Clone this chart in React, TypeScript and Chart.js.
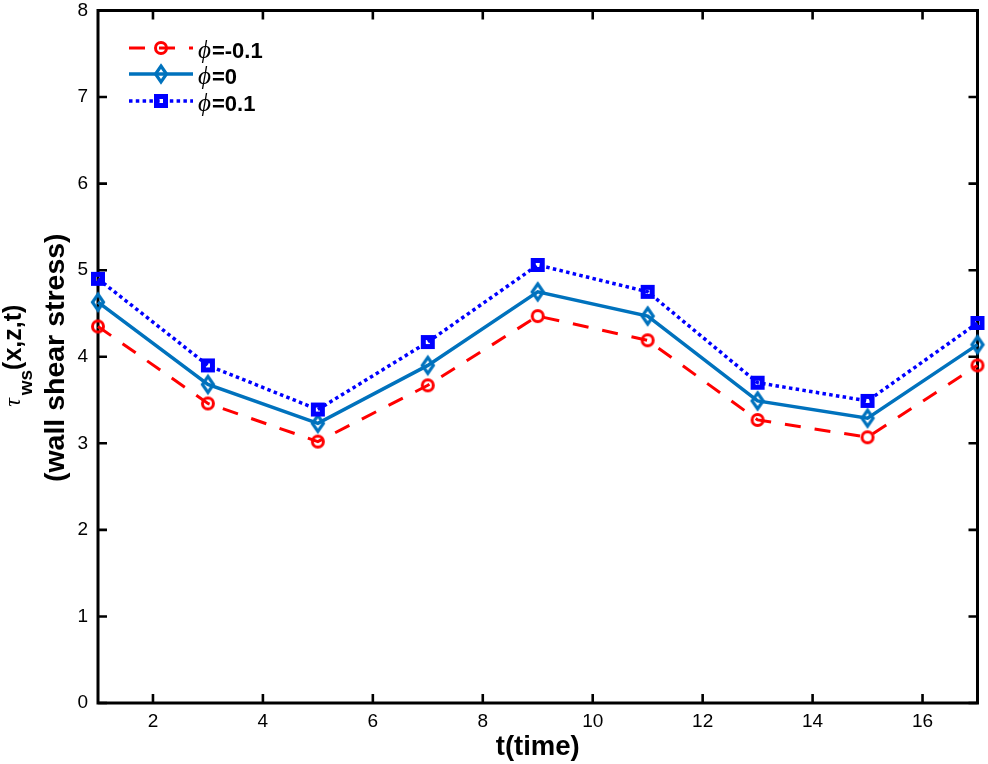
import React, { useEffect, useRef } from "react";
import { Chart, registerables } from "chart.js";

Chart.register(...registerables);

const times = [1, 3, 5, 7, 9, 11, 13, 15, 17];
const phiNeg = [4.35, 3.46, 3.02, 3.67, 4.47, 4.19, 3.27, 3.07, 3.9];
const phiZero = [4.63, 3.68, 3.23, 3.9, 4.75, 4.47, 3.49, 3.29, 4.14];
const phiPos = [4.9, 3.9, 3.39, 4.17, 5.06, 4.75, 3.7, 3.49, 4.39];
const xTicks = [2, 4, 6, 8, 10, 12, 14, 16];
const yTicks = [0, 1, 2, 3, 4, 5, 6, 7, 8];
const seriesLabels = ["=-0.1", "=0", "=0.1"];
const xTitle = "t(time)";
const yTitleMain = "(x,z,t)";
const yTitleSub = "ws";
const yTitleSym = "\u03C4";
const yTitle2 = "(wall shear stress)";
const phiSym = "\u03D5";

const RED = "#FF0000";
const MBLUE = "#0072BD";
const BLUE = "#0000FF";
const SANS = '"Liberation Sans", Arial, Helvetica, sans-serif';
const SERIF = '"Liberation Serif", "DejaVu Serif", serif';
const RED_DASH = [16, 14];
const DOT_DASH = [3.5, 3.3];

function makeMarker(kind: string, color: string): HTMLCanvasElement {
  const c = document.createElement("canvas");
  c.width = 26;
  c.height = 26;
  const g = c.getContext("2d")!;
  g.strokeStyle = color;
  g.lineJoin = "miter";
  const cx = 13, cy = 13;
  if (kind === "circle") {
    g.lineWidth = 3;
    g.beginPath();
    g.arc(cx, cy, 5.5, 0, Math.PI * 2);
    g.stroke();
  } else if (kind === "diamond") {
    g.lineWidth = 3.2;
    g.beginPath();
    g.moveTo(cx, cy - 8);
    g.lineTo(cx + 5.5, cy);
    g.lineTo(cx, cy + 8);
    g.lineTo(cx - 5.5, cy);
    g.closePath();
    g.stroke();
  } else {
    g.lineWidth = 5;
    g.strokeRect(cx - 4.5, cy - 4.5, 9, 9);
  }
  return c;
}

export default function App() {
  const ref = useRef<HTMLCanvasElement | null>(null);

  useEffect(() => {
    document.body.style.margin = "0";
    const canvas = ref.current!;
    const mCircle = makeMarker("circle", RED);
    const mDiamond = makeMarker("diamond", MBLUE);
    const mSquare = makeMarker("square", BLUE);

    const toXY = (ys: number[]) => times.map((t, i) => ({ x: t, y: ys[i] }));

    const framePlugin = {
      id: "frame",
      beforeDatasetsDraw(chart: any) {
        const { ctx, chartArea: a, scales } = chart;
        ctx.save();
        ctx.strokeStyle = "#000";
        ctx.lineWidth = 3;
        ctx.strokeRect(a.left, a.top, a.right - a.left, a.bottom - a.top);
        ctx.lineWidth = 2.6;
        const tl = 9;
        ctx.beginPath();
        xTicks.forEach((v) => {
          const px = scales.x.getPixelForValue(v);
          ctx.moveTo(px, a.bottom);
          ctx.lineTo(px, a.bottom - tl);
          ctx.moveTo(px, a.top);
          ctx.lineTo(px, a.top + tl);
        });
        yTicks.forEach((v) => {
          const py = scales.y.getPixelForValue(v);
          ctx.moveTo(a.left, py);
          ctx.lineTo(a.left + tl, py);
          ctx.moveTo(a.right, py);
          ctx.lineTo(a.right - tl, py);
        });
        ctx.stroke();
        ctx.restore();
      },
      afterDraw(chart: any) {
        const { ctx, chartArea: a } = chart;
        ctx.save();
        ctx.fillStyle = "#000";
        // x title
        ctx.font = `bold 27.5px ${SANS}`;
        ctx.textAlign = "center";
        ctx.textBaseline = "alphabetic";
        ctx.fillText(xTitle, (a.left + a.right) / 2, 755);

        // y title (rotated)
        const cy = (a.top + a.bottom) / 2;
        ctx.translate(0, cy);
        ctx.rotate(-Math.PI / 2);
        ctx.font = `bold 28.5px ${SANS}`;
        ctx.textAlign = "center";
        ctx.fillText(yTitle2, -1, 64);

        ctx.textAlign = "left";
        const fSym = `italic 24px ${SERIF}`;
        const fSub = `bold 19px ${SANS}`;
        const fMain = `bold 25px ${SANS}`;
        ctx.font = fSym;
        const wSym = ctx.measureText(yTitleSym).width;
        ctx.font = fSub;
        const wSub = ctx.measureText(yTitleSub).width;
        ctx.font = fMain;
        const wMain = ctx.measureText(yTitleMain).width;
        const total = wSym + 3 + wSub + wMain;
        let x0 = -total / 2 + 1;
        ctx.font = fSym;
        ctx.fillText(yTitleSym, x0, 20);
        x0 += wSym + 3;
        ctx.font = fSub;
        ctx.fillText(yTitleSub, x0, 32);
        x0 += wSub;
        ctx.font = fMain;
        ctx.fillText(yTitleMain, x0, 20.5);
        ctx.restore();

        // legend
        const rows = [
          { y: 48, color: RED, dash: RED_DASH, m: mCircle, w: 3 },
          { y: 74, color: MBLUE, dash: [], m: mDiamond, w: 3.5 },
          { y: 101, color: BLUE, dash: DOT_DASH, m: mSquare, w: 3.5 },
        ];
        ctx.save();
        rows.forEach((r, i) => {
          ctx.strokeStyle = r.color;
          ctx.lineWidth = r.w;
          ctx.setLineDash(r.dash);
          ctx.beginPath();
          ctx.moveTo(129, r.y);
          ctx.lineTo(193, r.y);
          ctx.stroke();
          ctx.setLineDash([]);
          ctx.drawImage(r.m, 161 - 13, r.y - 13);
          ctx.fillStyle = "#000";
          ctx.textBaseline = "alphabetic";
          ctx.textAlign = "left";
          ctx.font = `italic 25px ${SERIF}`;
          ctx.fillText(phiSym, 198, r.y + 9.5);
          const pw = ctx.measureText(phiSym).width;
          ctx.font = `bold 22px ${SANS}`;
          ctx.fillText(seriesLabels[i], 198 + pw + 1, r.y + 9.5);
        });
        ctx.restore();
      },
    };

    const common = { fill: false, tension: 0, pointRadius: 7, clip: false as any };

    const chart = new Chart(canvas, {
      type: "line",
      data: {
        datasets: [
          {
            ...common,
            label: seriesLabels[0],
            data: toXY(phiNeg),
            borderColor: RED,
            borderWidth: 3,
            borderDash: RED_DASH,
            pointStyle: mCircle as any,
            order: 3,
          },
          {
            ...common,
            label: seriesLabels[1],
            data: toXY(phiZero),
            borderColor: MBLUE,
            borderWidth: 3.5,
            pointStyle: mDiamond as any,
            order: 2,
          },
          {
            ...common,
            label: seriesLabels[2],
            data: toXY(phiPos),
            borderColor: BLUE,
            borderWidth: 3.5,
            borderDash: DOT_DASH,
            pointStyle: mSquare as any,
            order: 1,
          },
        ],
      },
      options: {
        animation: false,
        responsive: false,
        devicePixelRatio: 1,
        layout: { padding: { top: 10, right: 10, left: 0, bottom: 0 } },
        plugins: { legend: { display: false }, tooltip: { enabled: false } },
        scales: {
          x: {
            type: "linear",
            min: 1,
            max: 17,
            afterBuildTicks: (s: any) => {
              s.ticks = xTicks.map((v) => ({ value: v }));
            },
            afterFit: (s: any) => {
              s.height = 61;
              s.paddingLeft = 0;
              s.paddingRight = 0;
            },
            grid: { display: false, drawTicks: false },
            border: { display: false },
            ticks: {
              color: "#000",
              font: { family: SANS, size: 19 },
              padding: 7,
              maxRotation: 0,
              autoSkip: false,
            },
          },
          y: {
            type: "linear",
            min: 0,
            max: 8,
            afterBuildTicks: (s: any) => {
              s.ticks = yTicks.map((v) => ({ value: v }));
            },
            afterFit: (s: any) => {
              s.width = 98;
              s.paddingTop = 0;
              s.paddingBottom = 0;
            },
            grid: { display: false, drawTicks: false },
            border: { display: false },
            ticks: {
              color: "#000",
              font: { family: SANS, size: 19 },
              padding: 10,
              autoSkip: false,
            },
          },
        },
      } as any,
      plugins: [framePlugin],
    });
    return () => chart.destroy();
  }, []);

  return (
    <div style={{ width: 988, height: 764 }}>
      <canvas ref={ref} width={988} height={764} style={{ display: "block" }} />
    </div>
  );
}
